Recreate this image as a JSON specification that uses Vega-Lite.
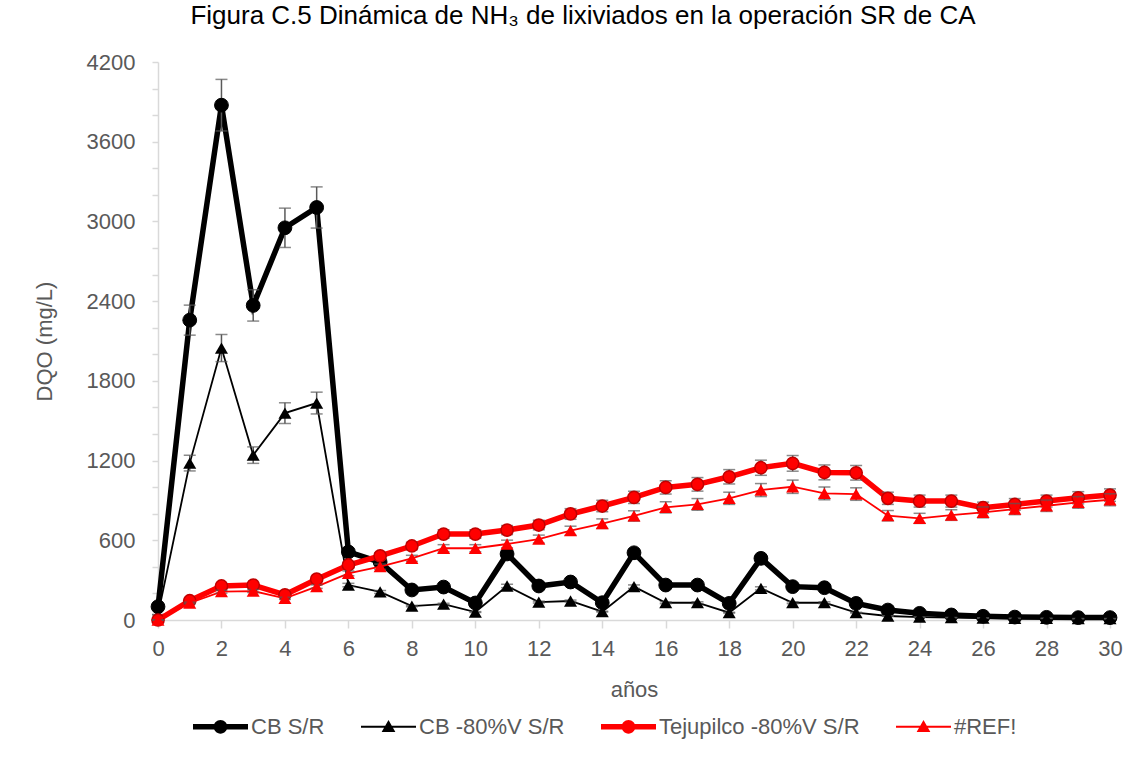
{
  "$schema": "https://vega.github.io/schema/vega-lite/v6.json",
  "width": 952,
  "height": 558,
  "autosize": {"type": "none"},
  "padding": {"left": 158, "top": 62, "right": 22, "bottom": 138},
  "background": "white",
  "title": {
    "text": "Figura C.5 Dinámica de NH₃ de lixiviados en la operación SR de CA",
    "fontSize": 26,
    "font": "Liberation Sans",
    "fontWeight": "normal",
    "color": "#000000",
    "anchor": "middle",
    "frame": "group",
    "dx": -51,
    "baseline": "alphabetic",
    "offset": 1
  },
  "config": {
    "view": {"stroke": null},
    "font": "Liberation Sans"
  },
  "data": {
    "values": [
      {"x": 0, "series": "CB S/R", "value": 100, "err": 5},
      {"x": 1, "series": "CB S/R", "value": 2257, "err": 113},
      {"x": 2, "series": "CB S/R", "value": 3875, "err": 194},
      {"x": 3, "series": "CB S/R", "value": 2368, "err": 118},
      {"x": 4, "series": "CB S/R", "value": 2952, "err": 148},
      {"x": 5, "series": "CB S/R", "value": 3105, "err": 155},
      {"x": 6, "series": "CB S/R", "value": 512, "err": 26},
      {"x": 7, "series": "CB S/R", "value": 436, "err": 22},
      {"x": 8, "series": "CB S/R", "value": 226, "err": 11},
      {"x": 9, "series": "CB S/R", "value": 248, "err": 12},
      {"x": 10, "series": "CB S/R", "value": 128, "err": 6},
      {"x": 11, "series": "CB S/R", "value": 497, "err": 25},
      {"x": 12, "series": "CB S/R", "value": 256, "err": 13},
      {"x": 13, "series": "CB S/R", "value": 286, "err": 14},
      {"x": 14, "series": "CB S/R", "value": 130, "err": 7},
      {"x": 15, "series": "CB S/R", "value": 506, "err": 25},
      {"x": 16, "series": "CB S/R", "value": 263, "err": 13},
      {"x": 17, "series": "CB S/R", "value": 263, "err": 13},
      {"x": 18, "series": "CB S/R", "value": 125, "err": 6},
      {"x": 19, "series": "CB S/R", "value": 464, "err": 23},
      {"x": 20, "series": "CB S/R", "value": 251, "err": 13},
      {"x": 21, "series": "CB S/R", "value": 243, "err": 12},
      {"x": 22, "series": "CB S/R", "value": 125, "err": 6},
      {"x": 23, "series": "CB S/R", "value": 75, "err": 4},
      {"x": 24, "series": "CB S/R", "value": 50, "err": 3},
      {"x": 25, "series": "CB S/R", "value": 38, "err": 2},
      {"x": 26, "series": "CB S/R", "value": 28, "err": 1},
      {"x": 27, "series": "CB S/R", "value": 22, "err": 1},
      {"x": 28, "series": "CB S/R", "value": 20, "err": 1},
      {"x": 29, "series": "CB S/R", "value": 18, "err": 1},
      {"x": 30, "series": "CB S/R", "value": 18, "err": 1},

      {"x": 0, "series": "CB -80%V S/R", "value": 40, "err": 2},
      {"x": 1, "series": "CB -80%V S/R", "value": 1181, "err": 59},
      {"x": 2, "series": "CB -80%V S/R", "value": 2047, "err": 102},
      {"x": 3, "series": "CB -80%V S/R", "value": 1241, "err": 62},
      {"x": 4, "series": "CB -80%V S/R", "value": 1557, "err": 78},
      {"x": 5, "series": "CB -80%V S/R", "value": 1633, "err": 82},
      {"x": 6, "series": "CB -80%V S/R", "value": 263, "err": 13},
      {"x": 7, "series": "CB -80%V S/R", "value": 211, "err": 11},
      {"x": 8, "series": "CB -80%V S/R", "value": 105, "err": 5},
      {"x": 9, "series": "CB -80%V S/R", "value": 120, "err": 6},
      {"x": 10, "series": "CB -80%V S/R", "value": 60, "err": 3},
      {"x": 11, "series": "CB -80%V S/R", "value": 256, "err": 13},
      {"x": 12, "series": "CB -80%V S/R", "value": 135, "err": 7},
      {"x": 13, "series": "CB -80%V S/R", "value": 143, "err": 7},
      {"x": 14, "series": "CB -80%V S/R", "value": 63, "err": 3},
      {"x": 15, "series": "CB -80%V S/R", "value": 251, "err": 13},
      {"x": 16, "series": "CB -80%V S/R", "value": 130, "err": 7},
      {"x": 17, "series": "CB -80%V S/R", "value": 130, "err": 7},
      {"x": 18, "series": "CB -80%V S/R", "value": 55, "err": 3},
      {"x": 19, "series": "CB -80%V S/R", "value": 238, "err": 12},
      {"x": 20, "series": "CB -80%V S/R", "value": 130, "err": 7},
      {"x": 21, "series": "CB -80%V S/R", "value": 130, "err": 7},
      {"x": 22, "series": "CB -80%V S/R", "value": 55, "err": 3},
      {"x": 23, "series": "CB -80%V S/R", "value": 30, "err": 2},
      {"x": 24, "series": "CB -80%V S/R", "value": 22, "err": 1},
      {"x": 25, "series": "CB -80%V S/R", "value": 18, "err": 1},
      {"x": 26, "series": "CB -80%V S/R", "value": 15, "err": 1},
      {"x": 27, "series": "CB -80%V S/R", "value": 12, "err": 1},
      {"x": 28, "series": "CB -80%V S/R", "value": 12, "err": 1},
      {"x": 29, "series": "CB -80%V S/R", "value": 10, "err": 1},
      {"x": 30, "series": "CB -80%V S/R", "value": 10, "err": 1},

      {"x": 0, "series": "Tejupilco -80%V S/R", "value": 0, "err": 0},
      {"x": 1, "series": "Tejupilco -80%V S/R", "value": 145, "err": 7},
      {"x": 2, "series": "Tejupilco -80%V S/R", "value": 256, "err": 13},
      {"x": 3, "series": "Tejupilco -80%V S/R", "value": 263, "err": 13},
      {"x": 4, "series": "Tejupilco -80%V S/R", "value": 190, "err": 10},
      {"x": 5, "series": "Tejupilco -80%V S/R", "value": 307, "err": 15},
      {"x": 6, "series": "Tejupilco -80%V S/R", "value": 414, "err": 21},
      {"x": 7, "series": "Tejupilco -80%V S/R", "value": 482, "err": 24},
      {"x": 8, "series": "Tejupilco -80%V S/R", "value": 557, "err": 28},
      {"x": 9, "series": "Tejupilco -80%V S/R", "value": 647, "err": 32},
      {"x": 10, "series": "Tejupilco -80%V S/R", "value": 647, "err": 32},
      {"x": 11, "series": "Tejupilco -80%V S/R", "value": 677, "err": 34},
      {"x": 12, "series": "Tejupilco -80%V S/R", "value": 715, "err": 36},
      {"x": 13, "series": "Tejupilco -80%V S/R", "value": 798, "err": 40},
      {"x": 14, "series": "Tejupilco -80%V S/R", "value": 858, "err": 43},
      {"x": 15, "series": "Tejupilco -80%V S/R", "value": 923, "err": 46},
      {"x": 16, "series": "Tejupilco -80%V S/R", "value": 998, "err": 50},
      {"x": 17, "series": "Tejupilco -80%V S/R", "value": 1021, "err": 51},
      {"x": 18, "series": "Tejupilco -80%V S/R", "value": 1078, "err": 54},
      {"x": 19, "series": "Tejupilco -80%V S/R", "value": 1146, "err": 57},
      {"x": 20, "series": "Tejupilco -80%V S/R", "value": 1179, "err": 59},
      {"x": 21, "series": "Tejupilco -80%V S/R", "value": 1111, "err": 56},
      {"x": 22, "series": "Tejupilco -80%V S/R", "value": 1108, "err": 55},
      {"x": 23, "series": "Tejupilco -80%V S/R", "value": 916, "err": 46},
      {"x": 24, "series": "Tejupilco -80%V S/R", "value": 895, "err": 45},
      {"x": 25, "series": "Tejupilco -80%V S/R", "value": 895, "err": 45},
      {"x": 26, "series": "Tejupilco -80%V S/R", "value": 845, "err": 42},
      {"x": 27, "series": "Tejupilco -80%V S/R", "value": 870, "err": 44},
      {"x": 28, "series": "Tejupilco -80%V S/R", "value": 895, "err": 45},
      {"x": 29, "series": "Tejupilco -80%V S/R", "value": 920, "err": 46},
      {"x": 30, "series": "Tejupilco -80%V S/R", "value": 940, "err": 47},

      {"x": 0, "series": "#REF!", "value": 0, "err": 0},
      {"x": 1, "series": "#REF!", "value": 128, "err": 6},
      {"x": 2, "series": "#REF!", "value": 213, "err": 11},
      {"x": 3, "series": "#REF!", "value": 218, "err": 11},
      {"x": 4, "series": "#REF!", "value": 163, "err": 8},
      {"x": 5, "series": "#REF!", "value": 251, "err": 13},
      {"x": 6, "series": "#REF!", "value": 351, "err": 18},
      {"x": 7, "series": "#REF!", "value": 401, "err": 20},
      {"x": 8, "series": "#REF!", "value": 464, "err": 23},
      {"x": 9, "series": "#REF!", "value": 540, "err": 27},
      {"x": 10, "series": "#REF!", "value": 540, "err": 27},
      {"x": 11, "series": "#REF!", "value": 572, "err": 29},
      {"x": 12, "series": "#REF!", "value": 609, "err": 30},
      {"x": 13, "series": "#REF!", "value": 672, "err": 34},
      {"x": 14, "series": "#REF!", "value": 725, "err": 36},
      {"x": 15, "series": "#REF!", "value": 783, "err": 39},
      {"x": 16, "series": "#REF!", "value": 848, "err": 42},
      {"x": 17, "series": "#REF!", "value": 870, "err": 44},
      {"x": 18, "series": "#REF!", "value": 916, "err": 46},
      {"x": 19, "series": "#REF!", "value": 978, "err": 49},
      {"x": 20, "series": "#REF!", "value": 1003, "err": 50},
      {"x": 21, "series": "#REF!", "value": 953, "err": 48},
      {"x": 22, "series": "#REF!", "value": 948, "err": 47},
      {"x": 23, "series": "#REF!", "value": 785, "err": 39},
      {"x": 24, "series": "#REF!", "value": 765, "err": 38},
      {"x": 25, "series": "#REF!", "value": 790, "err": 40},
      {"x": 26, "series": "#REF!", "value": 810, "err": 41},
      {"x": 27, "series": "#REF!", "value": 835, "err": 42},
      {"x": 28, "series": "#REF!", "value": 860, "err": 43},
      {"x": 29, "series": "#REF!", "value": 885, "err": 44},
      {"x": 30, "series": "#REF!", "value": 905, "err": 45}
    ]
  },
  "encoding": {
    "x": {
      "field": "x",
      "type": "quantitative",
      "scale": {"domain": [0, 30], "nice": false, "zero": false},
      "axis": {
        "title": "años",
        "values": [0, 2, 4, 6, 8, 10, 12, 14, 16, 18, 20, 22, 24, 26, 28, 30],
        "grid": false,
        "domainColor": "#d9d9d9",
        "domainWidth": 1.5,
        "tickColor": "#d9d9d9",
        "tickWidth": 1.5,
        "tickSize": 8,
        "labelFlush": false,
        "labelOverlap": false,
        "labelFontSize": 22,
        "labelColor": "#595959",
        "labelPadding": 10,
        "titleFontSize": 22,
        "titleColor": "#595959",
        "titleFontWeight": "normal",
        "titlePadding": 20
      }
    },
    "y": {
      "field": "value",
      "type": "quantitative",
      "scale": {"domain": [0, 4200], "nice": false},
      "axis": {
        "title": "DQO (mg/L)",
        "values": [0, 200, 400, 600, 800, 1000, 1200, 1400, 1600, 1800, 2000, 2200, 2400, 2600, 2800, 3000, 3200, 3400, 3600, 3800, 4000, 4200],
        "labelExpr": "datum.value % 600 === 0 ? datum.label : ''",
        "format": "d",
        "grid": false,
        "domainColor": "#d9d9d9",
        "domainWidth": 1.5,
        "tickColor": "#d9d9d9",
        "tickWidth": 1.5,
        "tickSize": 6,
        "labelFlush": false,
        "labelOverlap": false,
        "labelFontSize": 22,
        "labelColor": "#595959",
        "labelPadding": 17,
        "titleFontSize": 22,
        "titleColor": "#595959",
        "titleFontWeight": "normal",
        "titlePadding": 30
      }
    }
  },
  "layer": [
    {
      "transform": [{"filter": {"field": "series", "equal": "CB S/R"}}],
      "mark": {"type": "line", "color": "#000000", "strokeWidth": 5.5}
    },
    {
      "transform": [{"filter": {"field": "series", "equal": "CB S/R"}}],
      "mark": {"type": "errorbar", "color": "#595959", "thickness": 1.5, "ticks": {"size": 12}},
      "encoding": {"yError": {"field": "err"}}
    },
    {
      "transform": [{"filter": {"field": "series", "equal": "CB S/R"}}],
      "mark": {"type": "point", "shape": "circle", "filled": true, "size": 190, "fill": "#000000", "stroke": "#000000", "strokeWidth": 1, "opacity": 1}
    },
    {
      "transform": [{"filter": {"field": "series", "equal": "CB -80%V S/R"}}],
      "mark": {"type": "line", "color": "#000000", "strokeWidth": 1.8}
    },
    {
      "transform": [{"filter": {"field": "series", "equal": "CB -80%V S/R"}}],
      "mark": {"type": "errorbar", "color": "#595959", "thickness": 1.5, "ticks": {"size": 12}},
      "encoding": {"yError": {"field": "err"}}
    },
    {
      "transform": [{"filter": {"field": "series", "equal": "CB -80%V S/R"}}],
      "mark": {"type": "point", "shape": "triangle-up", "filled": true, "size": 170, "fill": "#000000", "strokeWidth": 0, "opacity": 1}
    },
    {
      "transform": [{"filter": {"field": "series", "equal": "Tejupilco -80%V S/R"}}],
      "mark": {"type": "line", "color": "#ff0000", "strokeWidth": 5.5}
    },
    {
      "transform": [{"filter": {"field": "series", "equal": "Tejupilco -80%V S/R"}}],
      "mark": {"type": "errorbar", "color": "#595959", "thickness": 1.5, "ticks": {"size": 12}},
      "encoding": {"yError": {"field": "err"}}
    },
    {
      "transform": [{"filter": {"field": "series", "equal": "Tejupilco -80%V S/R"}}],
      "mark": {"type": "point", "shape": "circle", "filled": true, "size": 150, "fill": "#ff0000", "stroke": "#c00000", "strokeWidth": 1.5, "opacity": 1}
    },
    {
      "transform": [{"filter": {"field": "series", "equal": "#REF!"}}],
      "mark": {"type": "line", "color": "#ff0000", "strokeWidth": 1.8}
    },
    {
      "transform": [{"filter": {"field": "series", "equal": "#REF!"}}],
      "mark": {"type": "errorbar", "color": "#595959", "thickness": 1.5, "ticks": {"size": 12}},
      "encoding": {"yError": {"field": "err"}}
    },
    {
      "transform": [{"filter": {"field": "series", "equal": "#REF!"}}],
      "mark": {"type": "point", "shape": "triangle-up", "filled": true, "size": 170, "fill": "#ff0000", "strokeWidth": 0, "opacity": 1}
    },
    {
      "transform": [{"filter": "false"}],
      "mark": {"type": "point", "filled": true, "opacity": 1},
      "encoding": {
        "color": {
          "field": "series",
          "type": "nominal",
          "scale": {
            "domain": ["CB S/R", "CB -80%V S/R", "Tejupilco -80%V S/R", "#REF!"],
            "range": ["#000000", "#000000", "#ff0000", "#ff0000"]
          },
          "legend": {
            "orient": "none",
            "legendX": 35,
            "legendY": 637,
            "direction": "horizontal",
            "title": null,
            "labelFontSize": 22,
            "labelColor": "#595959",
            "labelFont": "Liberation Sans",
            "labelLimit": 0,
            "symbolSize": 3025,
            "symbolStrokeWidth": 0,
            "symbolOpacity": 1,
            "labelOffset": 3,
            "columnPadding": 36
          }
        },
        "shape": {
          "field": "series",
          "type": "nominal",
          "scale": {
            "domain": ["CB S/R", "CB -80%V S/R", "Tejupilco -80%V S/R", "#REF!"],
            "range": [
              "M-1,-0.1H1V0.1H-1Z M-0.25,0A0.25,0.25 0 1,1 0.25,0A0.25,0.25 0 1,1 -0.25,0Z",
              "M-1,-0.036H1V0.036H-1Z M0,-0.25L0.25,0.19L-0.25,0.19Z",
              "M-1,-0.1H1V0.1H-1Z M-0.25,0A0.25,0.25 0 1,1 0.25,0A0.25,0.25 0 1,1 -0.25,0Z",
              "M-1,-0.036H1V0.036H-1Z M0,-0.25L0.25,0.19L-0.25,0.19Z"
            ]
          },
          "legend": {
            "orient": "none",
            "legendX": 35,
            "legendY": 637,
            "direction": "horizontal",
            "title": null,
            "labelFontSize": 22,
            "labelColor": "#595959",
            "labelFont": "Liberation Sans",
            "labelLimit": 0,
            "symbolSize": 3025,
            "symbolStrokeWidth": 0,
            "symbolOpacity": 1,
            "labelOffset": 3,
            "columnPadding": 36
          }
        }
      }
    }
  ]
}
